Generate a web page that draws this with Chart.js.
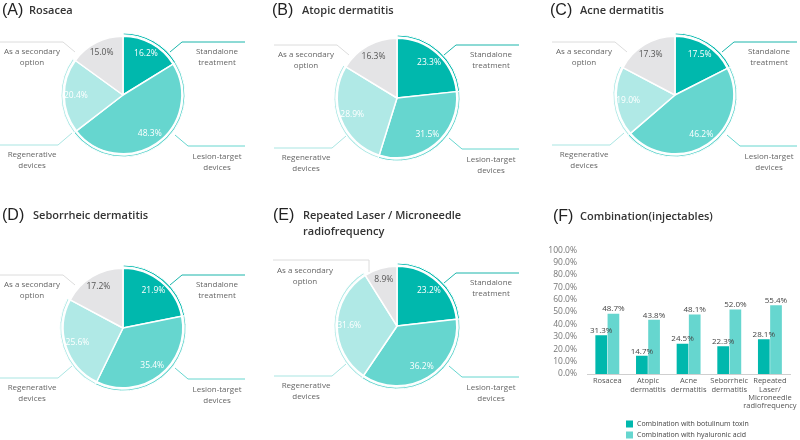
<!DOCTYPE html>
<html>
<head>
<meta charset="utf-8">
<script src="https://cdn.jsdelivr.net/npm/chart.js@4.4.1/dist/chart.umd.min.js"></script>
<style>
  body { margin: 0; background: #fff; width: 800px; height: 440px; position: relative; overflow: hidden; font-family: 'Open Sans', sans-serif; }
  canvas { position: absolute; }
  .tag { position: absolute; font-family: 'Liberation Sans', Arial, sans-serif; font-size: 16px; line-height: 16px; color: #222; }
  .name { position: absolute; font-size: 11px; font-weight: 600; line-height: 16px; color: #333; white-space: nowrap; }
</style>
</head>
<body>

<canvas id="pieA" width="270" height="200" style="left:0;top:0"></canvas>
<canvas id="pieB" width="270" height="200" style="left:270px;top:0"></canvas>
<canvas id="pieC" width="260" height="200" style="left:540px;top:0"></canvas>
<canvas id="pieD" width="270" height="240" style="left:0;top:200px"></canvas>
<canvas id="pieE" width="270" height="240" style="left:270px;top:200px"></canvas>
<canvas id="barF" width="260" height="205" style="left:540px;top:235px"></canvas>

<div class="tag" style="left:2px;top:2px">(A)</div><div class="name" style="left:29px;top:2px">Rosacea</div>
<div class="tag" style="left:272px;top:2px">(B)</div><div class="name" style="left:302px;top:2px">Atopic dermatitis</div>
<div class="tag" style="left:550px;top:2px">(C)</div><div class="name" style="left:580px;top:2px">Acne dermatitis</div>
<div class="tag" style="left:2px;top:207px">(D)</div><div class="name" style="left:33px;top:207px">Seborrheic dermatitis</div>
<div class="tag" style="left:273px;top:207px">(E)</div><div class="name" style="left:303px;top:207px">Repeated Laser / Microneedle<br>radiofrequency</div>
<div class="tag" style="left:553px;top:208px">(F)</div><div class="name" style="left:580px;top:208px">Combination(injectables)</div>

<script>
// pie data, order: standalone, lesion-target, regenerative, secondary
const pieLabels = [['Standalone', 'treatment'], ['Lesion-target', 'devices'], ['Regenerative', 'devices'], ['As a secondary', 'option']]
const rosacea = [16.2, 48.3, 20.4, 15.0]
const atopic = [23.3, 31.5, 28.9, 16.3]
const acne = [17.5, 46.2, 19.0, 17.3]
const seborrheic = [21.9, 35.4, 25.6, 17.2]
const repeated = [23.2, 36.2, 31.6, 8.9]

// bar data
const categories = ['Rosacea', ['Atopic', 'dermatitis'], ['Acne', 'dermatitis'], ['Seborrheic', 'dermatitis'], ['Repeated', 'Laser/', 'Microneedle', 'radiofrequency']]
const botulinum = [31.3, 14.7, 24.5, 22.3, 28.1]
const hyaluronic = [48.7, 43.8, 48.1, 52.0, 55.4]

const pieColors = ['#00b8ad', '#66d6cf', '#b0e9e6', '#e4e4e6']
const ringColors = ['#00b8ad', '#66d6cf', '#b0e9e6', 'rgba(0,0,0,0)']
const lineColors = ['#1ab5ab', '#66d6cf', '#a9e5e2', '#dcdcdc']

// leader lines, relative to pie centre
const leaders = [
  { pts: [[47, -43], [59, -53], [122, -53]], text: [94, -43] },
  { pts: [[52, 40], [65, 51], [122, 51]], text: [94, 62] },
  { pts: [[-51, 38], [-65, 50], [-123, 50]], text: [-91, 60] },
  { pts: [[-48, -43], [-60, -53], [-123, -53]], text: [-91, -43] }
]
const leadersE = leaders.slice(0, 3).concat([{ pts: [[-28, -54], [-28, -66], [-124, -66]], text: [-92, -55] }])

const pieDecor = {
  id: 'pieDecor',
  afterDraw(chart, args, opts) {
    const ctx = chart.ctx
    const a = chart.chartArea
    const cx = (a.left + a.right) / 2
    const cy = (a.top + a.bottom) / 2
    ctx.save()
    opts.leaders.forEach((l, i) => {
      ctx.strokeStyle = lineColors[i]
      ctx.lineWidth = 1
      ctx.beginPath()
      l.pts.forEach((p, j) => {
        if (j == 0) ctx.moveTo(cx + p[0], cy + p[1])
        else ctx.lineTo(cx + p[0], cy + p[1])
      })
      ctx.stroke()
      ctx.fillStyle = '#666'
      ctx.font = '8px "Open Sans"'
      ctx.textAlign = 'center'
      ctx.textBaseline = 'middle'
      pieLabels[i].forEach((t, k) => {
        ctx.fillText(t, cx + l.text[0], cy + l.text[1] + k * 11)
      })
    })
    // percent labels
    const meta = chart.getDatasetMeta(2)
    const data = chart.data.datasets[2].data
    const R = chart.options.radius
    meta.data.forEach((arc, i) => {
      const p = arc.getProps(['startAngle', 'endAngle', 'x', 'y'], true)
      const mid = (p.startAngle + p.endAngle) / 2
      const r = R * 0.76
      ctx.fillStyle = i == 3 ? '#555' : '#fff'
      ctx.font = '8.5px "Open Sans"'
      ctx.textAlign = 'center'
      ctx.textBaseline = 'middle'
      ctx.fillText(data[i].toFixed(1) + '%', p.x + Math.cos(mid) * r, p.y + Math.sin(mid) * r)
    })
    ctx.restore()
  }
}

function makePie(id, values, cx, cy, R, lead) {
  const cv = document.getElementById(id)
  const W = cv.width, H = cv.height
  new Chart(cv, {
    type: 'pie',
    data: {
      labels: pieLabels.map(l => l.join(' ')),
      datasets: [
        { data: values, backgroundColor: ringColors, borderColor: '#fff', borderWidth: 1, weight: 1.8 },
        { data: values, backgroundColor: 'rgba(0,0,0,0)', borderWidth: 0, weight: 1.4 },
        { data: values, backgroundColor: pieColors, borderColor: '#fff', borderWidth: 1.5, weight: R - 3.2 }
      ]
    },
    options: {
      responsive: false,
      animation: false,
      radius: R,
      layout: { padding: { left: cx - R, right: W - cx - R, top: cy - R, bottom: H - cy - R } },
      hoverOffset: 0,
      plugins: {
        legend: { display: false },
        tooltip: { enabled: false },
        pieDecor: { leaders: lead }
      }
    },
    plugins: [pieDecor]
  })
}

makePie('pieA', rosacea, 123, 95, 62, leaders)
makePie('pieB', atopic, 127, 98, 63, leaders)
makePie('pieC', acne, 135, 95, 62, leaders)
makePie('pieD', seborrheic, 123, 128, 63, leaders)
makePie('pieE', repeated, 127, 126, 63, leadersE)

const barExtras = {
  id: 'barExtras',
  afterDraw(chart) {
    const ctx = chart.ctx
    ctx.save()
    ctx.font = '8px "Open Sans"'
    ctx.fillStyle = '#444'
    ctx.textAlign = 'center'
    ctx.textBaseline = 'bottom'
    chart.data.datasets.forEach((ds, i) => {
      chart.getDatasetMeta(i).data.forEach((bar, j) => {
        ctx.fillText(ds.data[j].toFixed(1) + '%', bar.x, bar.y - 0.5)
      })
    })
    // legend, stacked
    chart.data.datasets.forEach((ds, i) => {
      const y = 189 + i * 11
      ctx.fillStyle = ds.backgroundColor
      ctx.fillRect(86, y - 3.5, 7, 7)
      ctx.fillStyle = '#444'
      ctx.font = '7px "Open Sans"'
      ctx.textAlign = 'left'
      ctx.textBaseline = 'middle'
      ctx.fillText(ds.label, 97, y)
    })
    ctx.restore()
  }
}

new Chart(document.getElementById('barF'), {
  type: 'bar',
  data: {
    labels: categories,
    datasets: [
      { label: 'Combination with botulinum toxin', data: botulinum, backgroundColor: '#00b8ad', categoryPercentage: 0.6, barPercentage: 0.96 },
      { label: 'Combination with hyaluronic acid', data: hyaluronic, backgroundColor: '#66d6cf', categoryPercentage: 0.6, barPercentage: 0.96 }
    ]
  },
  options: {
    responsive: false,
    animation: false,
    layout: { padding: { left: 0, right: 4, top: 12, bottom: 26 } },
    plugins: {
      legend: { display: false },
      tooltip: { enabled: false }
    },
    scales: {
      y: {
        min: 0,
        max: 100,
        afterFit: s => { s.width = 47 },
        ticks: {
          stepSize: 10,
          autoSkip: false,
          padding: 10,
          color: '#777',
          font: { family: 'Open Sans', size: 8.5 },
          callback: v => v.toFixed(1) + '%'
        },
        grid: { display: false, drawTicks: false },
        border: { display: false }
      },
      x: {
        afterFit: s => { s.height = 40 },
        ticks: {
          color: '#555',
          padding: 3,
          maxRotation: 0,
          autoSkip: false,
          font: { family: 'Open Sans', size: 7.5, lineHeight: 1.1 }
        },
        grid: { display: false, drawTicks: false },
        border: { display: true, color: '#cfcfcf' }
      }
    }
  },
  plugins: [barExtras]
})
</script>
</body>
</html>
